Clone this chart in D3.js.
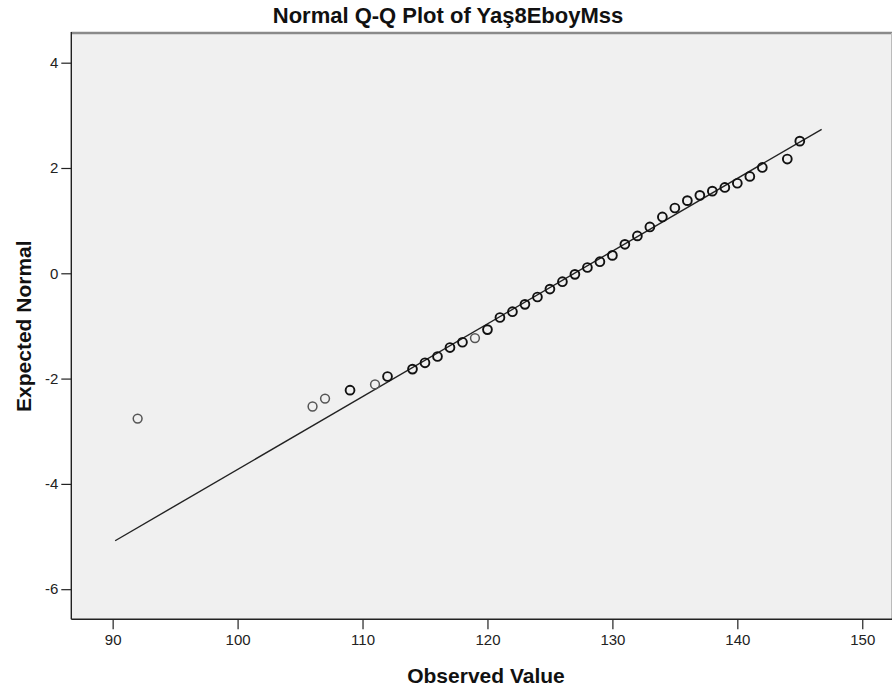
<!DOCTYPE html>
<html>
<head>
<meta charset="utf-8">
<style>
  body { margin: 0; background: #fff; }
  svg { font-family: "Liberation Sans", Arial, sans-serif; }
  .tick text { font-size: 15px; fill: #222; }
  .tick line { stroke: #222; stroke-width: 1.2; }
</style>
</head>
<body>
<svg width="893" height="687"></svg>
<script src="https://d3js.org/d3.v7.min.js"></script>
<script>
var observed = [92, 106, 107, 109, 111, 112, 114, 115, 116, 117, 118, 119, 120,
  121, 122, 123, 124, 125, 126, 127, 128, 129, 130, 131, 132, 133, 134, 135,
  136, 137, 138, 139, 140, 141, 142, 144, 145];
var expected = [-2.76, -2.53, -2.38, -2.22, -2.11, -1.96, -1.82, -1.70, -1.58, -1.41,
  -1.31, -1.23, -1.07, -0.84, -0.73, -0.59, -0.45, -0.30, -0.16, -0.02, 0.11, 0.22,
  0.34, 0.55, 0.71, 0.88, 1.07, 1.24, 1.38, 1.48, 1.56, 1.63, 1.71, 1.84, 2.01, 2.17, 2.51];
// how many cases sit on each point (darker rings where they overlap)
var counts = [1, 1, 1, 2, 1, 2, 2, 2, 2, 2, 2, 1, 2, 2, 2, 2, 2, 2, 2, 2, 2, 2,
  2, 2, 2, 2, 2, 2, 2, 2, 2, 2, 2, 2, 2, 2, 2];

// reference line ends
var lineX = [90.2, 146.75];
var lineY = [-5.08, 2.735];

var xTicks = [90, 100, 110, 120, 130, 140, 150];
var yTicks = [4, 2, 0, -2, -4, -6];

var svg = d3.select("svg");

var pLeft = 71.3, pRight = 892, pTop = 33, pBottom = 619.3;

var x = d3.scaleLinear().domain([86.69, 152.38]).range([pLeft, pRight]);
var y = d3.scaleLinear().domain([-6.572, 4.564]).range([pBottom, pTop]);

// plot background
svg.append("rect")
  .attr("x", pLeft).attr("y", pTop)
  .attr("width", pRight - pLeft).attr("height", pBottom - pTop)
  .attr("fill", "#f0f0f0");

// frame: grey top/right, black left/bottom
svg.append("line").attr("x1", pLeft).attr("x2", pRight).attr("y1", pTop).attr("y2", pTop)
  .attr("stroke", "#8a8a8a").attr("stroke-width", 2.5);
svg.append("line").attr("x1", pRight - 0.5).attr("x2", pRight - 0.5).attr("y1", pTop).attr("y2", pBottom)
  .attr("stroke", "#bbb").attr("stroke-width", 1);
svg.append("line").attr("x1", pLeft).attr("x2", pLeft).attr("y1", pTop - 1).attr("y2", pBottom)
  .attr("stroke", "#222").attr("stroke-width", 1.4);
svg.append("line").attr("x1", pLeft).attr("x2", pRight).attr("y1", pBottom).attr("y2", pBottom)
  .attr("stroke", "#222").attr("stroke-width", 1.4);

// axes (plain hyphen for negatives, as in the original)
var xAxis = svg.append("g")
  .attr("transform", "translate(0," + pBottom + ")")
  .call(d3.axisBottom(x).tickValues(xTicks).tickFormat(String).tickSize(10).tickPadding(5));
xAxis.select(".domain").remove();

var yAxis = svg.append("g")
  .attr("transform", "translate(" + pLeft + ",0)")
  .call(d3.axisLeft(y).tickValues(yTicks).tickFormat(String).tickSize(10).tickPadding(3));
yAxis.select(".domain").remove();

// reference line
svg.append("line")
  .attr("x1", x(lineX[0])).attr("y1", y(lineY[0]))
  .attr("x2", x(lineX[1])).attr("y2", y(lineY[1]))
  .attr("stroke", "#222").attr("stroke-width", 1.4);

// points
svg.selectAll("circle.pt")
  .data(observed)
  .enter().append("circle")
  .attr("class", "pt")
  .attr("cx", function(d) { return x(d); })
  .attr("cy", function(d, i) { return y(expected[i]); })
  .attr("r", 4.4)
  .attr("fill", "none")
  .attr("stroke", function(d, i) { return counts[i] > 1 ? "#111" : "#555"; })
  .attr("stroke-width", function(d, i) { return counts[i] > 1 ? 1.9 : 1.5; });

// titles
svg.append("text")
  .attr("x", 448).attr("y", 23)
  .attr("text-anchor", "middle")
  .attr("font-size", "22px").attr("font-weight", "bold").attr("fill", "#111")
  .text("Normal Q-Q Plot of Yaş8EboyMss");

svg.append("text")
  .attr("x", 486).attr("y", 683)
  .attr("text-anchor", "middle")
  .attr("font-size", "21px").attr("font-weight", "bold").attr("fill", "#111")
  .text("Observed Value");

svg.append("text")
  .attr("transform", "translate(31," + (pTop + pBottom) / 2 + ") rotate(-90)")
  .attr("text-anchor", "middle")
  .attr("font-size", "21px").attr("font-weight", "bold").attr("fill", "#111")
  .text("Expected Normal");
</script>
</body>
</html>
